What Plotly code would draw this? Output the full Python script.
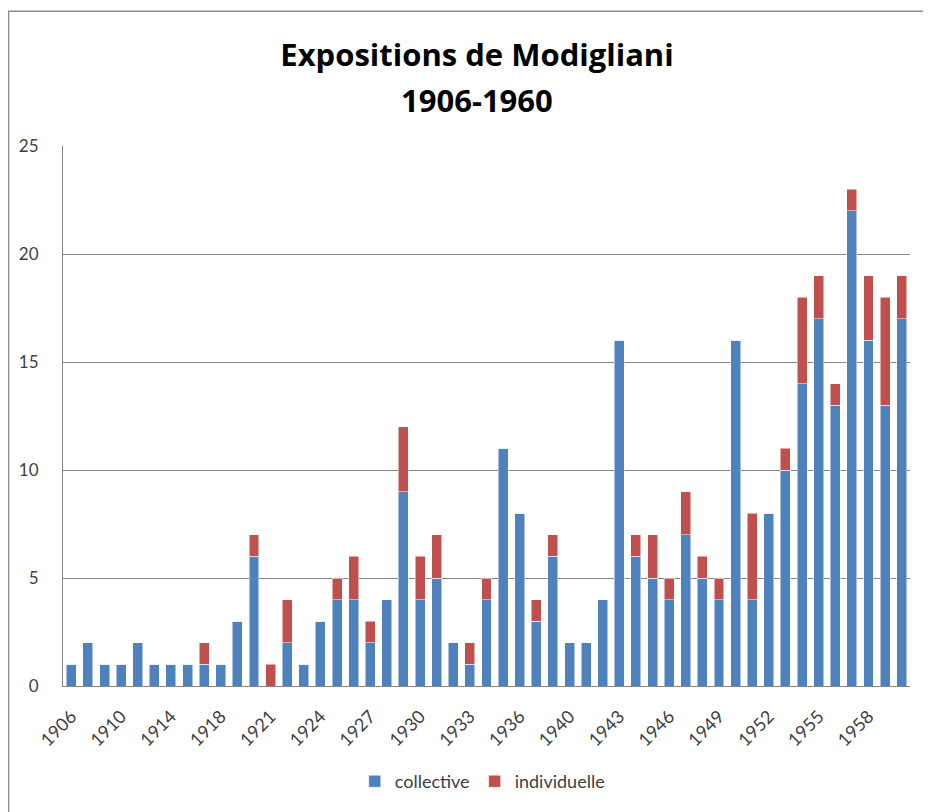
import plotly.graph_objects as go

years = ["1906", "1907", "1908", "1910", "1911", "1912", "1914", "1916", "1917",
         "1918", "1919", "1920", "1921", "1922", "1923", "1924", "1925", "1926",
         "1927", "1928", "1929", "1930", "1931", "1932", "1933", "1934", "1935",
         "1936", "1937", "1938", "1940", "1941", "1942", "1943", "1944", "1945",
         "1946", "1947", "1948", "1949", "1950", "1951", "1952", "1953", "1954",
         "1955", "1956", "1957", "1958", "1959", "1960"]

collective = [1, 2, 1, 1, 2, 1, 1, 1, 1,
              1, 3, 6, 0, 2, 1, 3, 4, 4,
              2, 4, 9, 4, 5, 2, 1, 4, 11,
              8, 3, 6, 2, 2, 4, 16, 6, 5,
              4, 7, 5, 4, 16, 4, 8, 10, 14,
              17, 13, 22, 16, 13, 17]

individuelle = [0, 0, 0, 0, 0, 0, 0, 0, 1,
                0, 0, 1, 1, 2, 0, 0, 1, 2,
                1, 0, 3, 2, 2, 0, 1, 1, 0,
                0, 1, 1, 0, 0, 0, 0, 1, 2,
                1, 2, 1, 1, 0, 4, 0, 1, 4,
                2, 1, 1, 3, 5, 2]

tick_labels = years[::3]

FONT = "Lato, 'Open Sans', sans-serif"
TITLE_FONT = "'Open Sans', Lato, sans-serif"

fig = go.Figure()
fig.add_trace(go.Bar(x=years, y=collective, name="collective", marker_color="#4F81BD"))
fig.add_trace(go.Bar(x=years, y=individuelle, name="individuelle", marker_color="#C0504D"))

fig.update_layout(
    width=923,
    height=804,
    barmode="stack",
    bargap=0.4,
    template="plotly_white",
    plot_bgcolor="white",
    paper_bgcolor="white",
    font=dict(family=FONT, color="#404040"),
    title=dict(
        text="<b>Expositions de Modigliani</b>",
        x=0.4888,
        xref="paper",
        xanchor="center",
        y=1 - 47 / 804,
        yref="container",
        yanchor="middle",
        font=dict(family=TITLE_FONT, size=31, color="#000000"),
    ),
    margin=dict(l=55, r=21, t=138, b=123),
    legend=dict(
        orientation="h",
        traceorder="normal",
        x=0.495,
        xanchor="center",
        y=-0.177,
        yanchor="middle",
        font=dict(family=FONT, size=18, color="#404040"),
        itemwidth=30,
    ),
    shapes=[dict(type="rect", xref="paper", yref="paper", x0=-0.0643, x1=1.2,
                 y0=-0.4, y1=1.2495, line=dict(color="#8c8c8c", width=1.5))],
    annotations=[dict(text="<b>1906-1960</b>", xref="paper", yref="paper",
                      x=0.4888, y=(681 - 92) / 543, xanchor="center", yanchor="middle",
                      showarrow=False, font=dict(family=TITLE_FONT, size=31, color="#000000"))],
)
fig.update_xaxes(
    type="category",
    tickmode="array",
    tickvals=tick_labels,
    ticktext=tick_labels,
    tickangle=-45,
    tickfont=dict(family=FONT, size=18, color="#404040"),
    showgrid=False,
    showline=True,
    linecolor="#868686",
    ticks="",
    ticklabelstandoff=12,
    automargin=False,
)
fig.update_yaxes(
    range=[0, 25],
    dtick=5,
    tickfont=dict(family=FONT, size=17, color="#404040"),
    showgrid=True,
    gridcolor="#868686",
    gridwidth=1,
    showline=True,
    linecolor="#868686",
    zeroline=False,
    ticks="",
    ticklabelstandoff=20,
    automargin=False,
)

fig.write_html("out.html")
